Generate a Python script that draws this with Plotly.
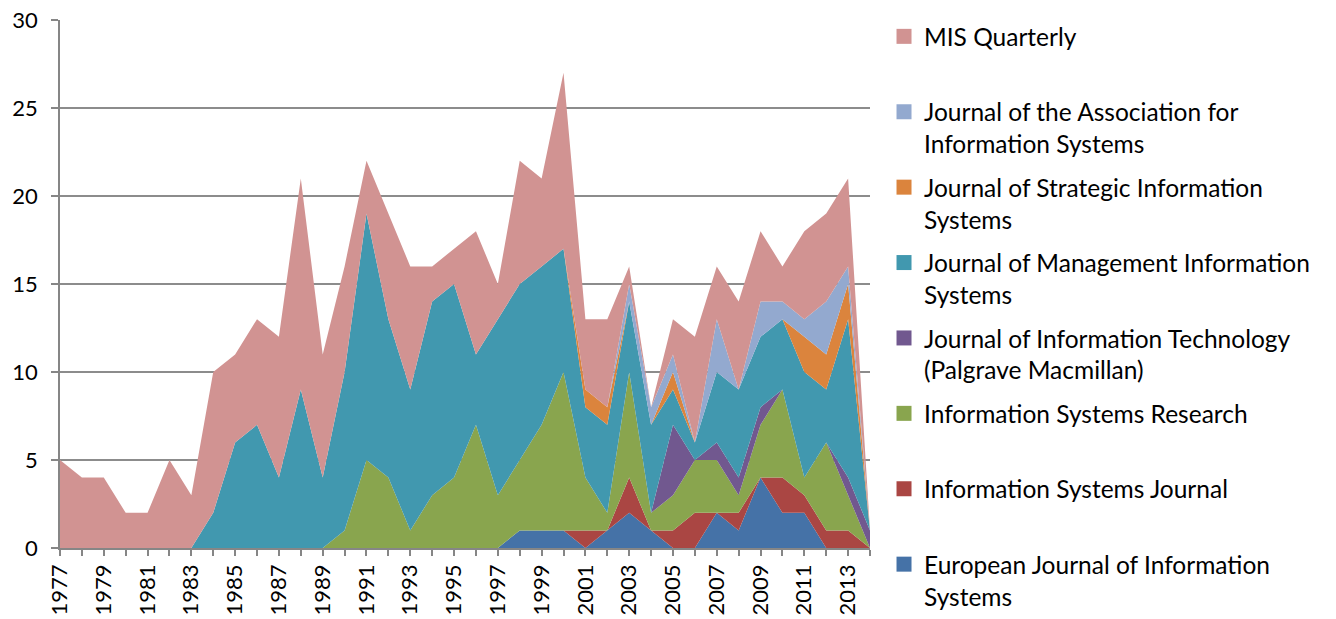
import plotly.graph_objects as go

years = list(range(1977, 2015))

ejis = [0,0,0,0,0,0,0,0,0,0,0,0,0,0,0,0,0,0,0,0,0,1,1,1,0,1,2,1,0,0,2,1,4,2,2,0,0,0]
isj  = [0,0,0,0,0,0,0,0,0,0,0,0,0,0,0,0,0,0,0,0,0,0,0,0,1,0,2,0,1,2,0,1,0,2,1,1,1,0]
isr  = [0,0,0,0,0,0,0,0,0,0,0,0,0,1,5,4,1,3,4,7,3,4,6,9,3,1,6,1,2,3,3,1,3,5,1,5,2,0]
jit  = [0,0,0,0,0,0,0,0,0,0,0,0,0,0,0,0,0,0,0,0,0,0,0,0,0,0,0,0,4,0,1,1,1,0,0,0,1,1]
jmis = [0,0,0,0,0,0,0,2,6,7,4,9,4,9,14,9,8,11,11,4,10,10,9,7,4,5,4,5,2,1,4,5,4,4,6,3,9,0]
jsis = [0,0,0,0,0,0,0,0,0,0,0,0,0,0,0,0,0,0,0,0,0,0,0,0,1,1,0,0,1,0,0,0,0,0,2,2,2,0]
jais = [0,0,0,0,0,0,0,0,0,0,0,0,0,0,0,0,0,0,0,0,0,0,0,0,0,0,1,1,1,0,3,0,2,1,1,3,1,0]
misq = [5,4,4,2,2,5,3,8,5,6,8,12,7,6,3,6,7,2,2,7,2,7,5,10,4,5,1,0,2,6,3,5,4,2,5,5,5,0]

series = [
    ("European Journal of Information<br>Systems", ejis, "#4572A7"),
    ("Information Systems Journal<br>&nbsp;", isj, "#AA4643"),
    ("Information Systems Research<br>&nbsp;", isr, "#89A54E"),
    ("Journal of Information Technology<br>(Palgrave Macmillan)", jit, "#71588F"),
    ("Journal of Management Information<br>Systems", jmis, "#4198AF"),
    ("Journal of Strategic Information<br>Systems", jsis, "#DB843D"),
    ("Journal of the Association for<br>Information Systems", jais, "#93A9CF"),
    ("MIS Quarterly<br>&nbsp;", misq, "#D19392"),
]

xtick_vals = list(range(1977, 2014, 2))
ytick_vals = [0, 5, 10, 15, 20, 25, 30]

FONT = "Lato, 'Open Sans', sans-serif"
LEG_SIZE = 24.5

fig = go.Figure()
for name, vals, col in series:
    fig.add_trace(go.Scatter(
        x=years, y=vals, stackgroup="one", mode="lines",
        line=dict(width=0, color=col), fillcolor=col,
        showlegend=False, hoverinfo="x+y", name=name.split("<br>")[0]))

# legend entries (top to bottom)
for name, vals, col in reversed(series):
    fig.add_trace(go.Scatter(
        x=[None], y=[None], mode="markers", name=name, legendgroup=name,
        marker=dict(symbol="square", size=15, color=col), showlegend=True))

item_h = 2 * 1.3 * LEG_SIZE + 3
gap = 75.4 - item_h

fig.update_layout(
    width=1336, height=619,
    margin=dict(l=60, r=466, t=20, b=71, autoexpand=False),
    paper_bgcolor="white", plot_bgcolor="white",
    font=dict(family=FONT, color="#000000"),
    legend=dict(
        x=1.0173, y=1.0115, xanchor="left", yanchor="top",
        font=dict(family=FONT, size=LEG_SIZE, color="#000000"),
        valign="top", tracegroupgap=gap, traceorder="grouped",
        itemsizing="trace", bgcolor="rgba(0,0,0,0)", maxheight=1000),
    xaxis=dict(
        range=[1977, 2014], tickvals=xtick_vals, ticktext=[str(v) for v in xtick_vals],
        tickangle=-90, tickfont=dict(size=22, family=FONT),
        ticks="outside", ticklen=6, tickcolor="#868686", tickwidth=1.5,
        minor=dict(dtick=1, tick0=1977, ticks="outside", ticklen=6, tickcolor="#868686", tickwidth=1.5, showgrid=False),
        showline=True, linecolor="#868686", linewidth=1.5,
        showgrid=False, zeroline=False),
    yaxis=dict(
        range=[0, 30], tickvals=ytick_vals,
        tickfont=dict(size=22, family=FONT), ticklabelstandoff=9,
        ticks="outside", ticklen=7, tickcolor="#868686", tickwidth=1.5,
        showline=True, linecolor="#868686", linewidth=1.5,
        showgrid=True, gridcolor="#8c8c8c", gridwidth=1.5, zeroline=False),
)

fig.write_html("out.html", config={"displayModeBar": False},
               post_script="document.body.style.margin='0px';document.body.style.overflow='hidden';")
